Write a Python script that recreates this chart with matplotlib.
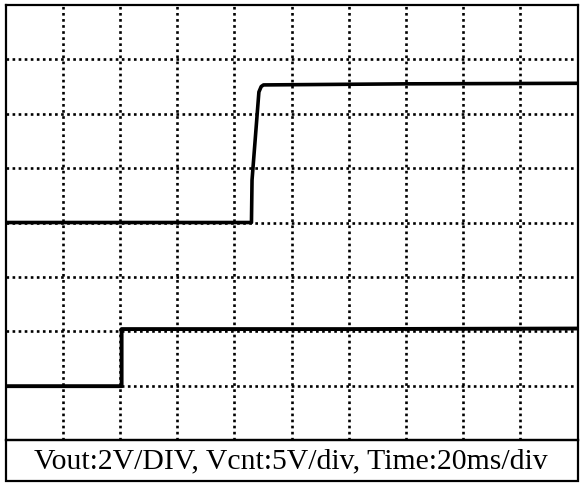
import matplotlib
matplotlib.use("Agg")
import matplotlib.pyplot as plt
from matplotlib.patches import Rectangle

# ---- traces, in divisions (10 x 8 screen) ---------------------------------
vout_t = [0.0, 4.30, 4.31, 4.43, 4.47, 4.51, 7.0, 10.0]
vout_v = [4.00, 4.00, 4.78, 6.40, 6.50, 6.53, 6.55, 6.56]

vcnt_t = [0.0, 2.03, 2.03, 6.0, 10.0]
vcnt_v = [0.99, 0.99, 2.04, 2.04, 2.05]

caption = "Vout:2V/DIV, Vcnt:5V/div, Time:20ms/div"

W, H = 581, 483
fig = plt.figure(figsize=(W / 100, H / 100), dpi=100)

# screen area: x 5.5..577.5 px, y 5..440 px (from top)
ax = fig.add_axes([5.5 / W, 1 - 440 / H, 572 / W, 435 / H])
ax.set_xlim(0, 10)
ax.set_ylim(0, 8)
ax.set_xticks(range(1, 10))
ax.set_yticks(range(1, 8))
ax.tick_params(length=0, labelbottom=False, labelleft=False)
ax.grid(True, color="black", lw=1.9, linestyle=(0, (1.0, 1.3)))
for sp in ax.spines.values():
    sp.set_linewidth(1.6)

ax.plot(vout_t, vout_v, color="black", lw=2.6, solid_joinstyle="round", zorder=3)
ax.plot(vcnt_t, vcnt_v, color="black", lw=2.8, solid_joinstyle="round", zorder=3)

# caption box under the screen
fig.patches.append(Rectangle((6 / W, 1 - 481 / H), 572 / W, 41 / H,
                             transform=fig.transFigure, fill=False,
                             edgecolor="black", lw=1.6))
fig.text(291 / W, 1 - 461 / H, caption, ha="center", va="center",
         family="Liberation Serif", fontsize=21.4, color="black")

fig.savefig("out.png", dpi=100)
